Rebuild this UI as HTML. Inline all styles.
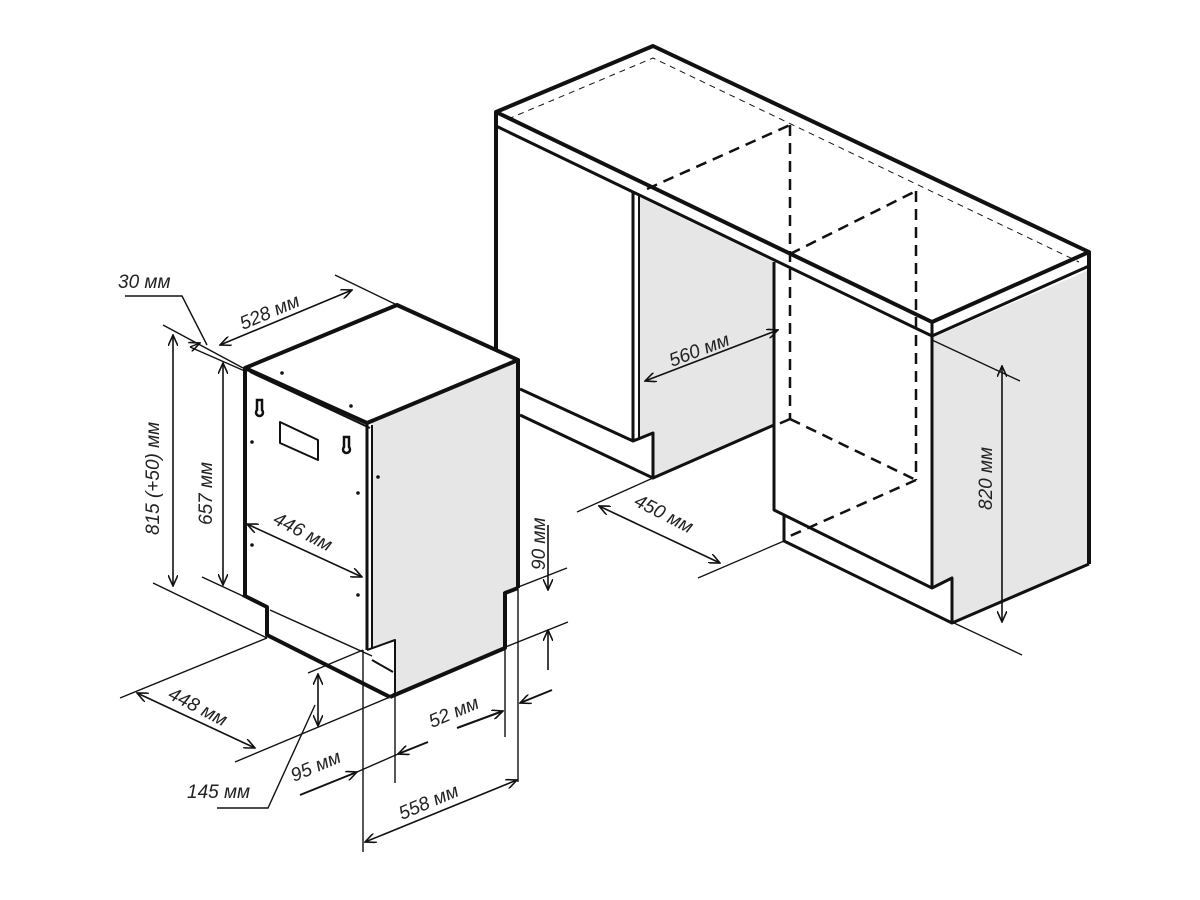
<!DOCTYPE html>
<html><head><meta charset="utf-8"><style>
html,body{margin:0;padding:0;background:#fff}
svg{display:block}
text{font-family:"Liberation Sans",sans-serif;font-size:19px;fill:#222;font-style:italic}
</style></head><body>
<svg width="1200" height="900" viewBox="0 0 1200 900" xmlns="http://www.w3.org/2000/svg">
<defs>
<marker id="a" viewBox="0 0 12 10" refX="11" refY="5" markerWidth="12" markerHeight="10" markerUnits="userSpaceOnUse" orient="auto-start-reverse">
<path d="M0,0 L11,5 L0,10" fill="none" stroke="#111" stroke-width="1.6"/>
</marker>
</defs>
<rect width="1200" height="900" fill="#fff"/>

<!-- ===== CABINET ===== -->
<g stroke="#111" stroke-linejoin="round" fill="none">
<polygon points="639,197 774,262 774,425 653,478 653,433 639,440" fill="#e6e6e6" stroke="none"/>
<polygon points="932,338 1089,270 1089,564 952,623 952,578 932,588" fill="#e6e6e6" stroke="none"/>
<polygon points="496,112 653,46 1089,252 932,322" fill="#fff" stroke-width="4"/>
<polyline points="496,126 932,336 1089,266" stroke-width="3"/>
<line x1="932" y1="322" x2="932" y2="588" stroke-width="3"/>
<line x1="1089" y1="252" x2="1089" y2="564" stroke-width="4"/>
<polyline points="508,119 653,58 1079,262" stroke-width="1" stroke-dasharray="6,5"/>
<line x1="496" y1="112" x2="496" y2="358" stroke-width="4"/>
<polyline points="520,389 633,441 633,191" stroke-width="3"/>
<line x1="639" y1="195" x2="639" y2="440" stroke-width="2"/>
<polyline points="520,415 653,478 653,433 633,441" stroke-width="3"/>
<line x1="653" y1="478" x2="774" y2="425" stroke-width="3"/>
<polyline points="774,262 774,510 932,588 952,578 952,623 1089,564" stroke-width="3"/>
<polyline points="784,516 784,541 952,623" stroke-width="3"/>
<g stroke-width="2.5" stroke-dasharray="11,7">
<line x1="647" y1="189" x2="790" y2="125"/>
<line x1="790" y1="125" x2="790" y2="419"/>
<line x1="790" y1="254" x2="916" y2="191"/>
<line x1="916" y1="191" x2="916" y2="480"/>
<line x1="790" y1="419" x2="916" y2="480"/>
<line x1="916" y1="480" x2="790" y2="536"/>
<line x1="790" y1="419" x2="774" y2="426"/>
</g>
<line x1="645" y1="381" x2="778" y2="330" stroke-width="1.6" marker-start="url(#a)" marker-end="url(#a)"/>
<line x1="577" y1="512" x2="653" y2="478" stroke-width="1.3"/>
<line x1="698" y1="578" x2="784" y2="541" stroke-width="1.3"/>
<line x1="599" y1="506" x2="720" y2="563" stroke-width="1.6" marker-start="url(#a)" marker-end="url(#a)"/>
<line x1="932" y1="340" x2="1020" y2="381" stroke-width="1.3"/>
<line x1="954" y1="623" x2="1022" y2="655" stroke-width="1.3"/>
<line x1="1002" y1="366" x2="1002" y2="622" stroke-width="1.6" marker-start="url(#a)" marker-end="url(#a)"/>
</g>
<text transform="translate(672,367) rotate(-21)">560 мм</text>
<text transform="translate(633,505) rotate(27)">450 мм</text>
<text transform="translate(992,510) rotate(-90)">820 мм</text>

<!-- ===== DISHWASHER ===== -->
<g stroke="#111" stroke-linejoin="round" fill="none">
<polygon points="372,423 518,360 518,588 505,593 505,648 390,697 395,693 395,640 372,647" fill="#e6e6e6" stroke="none"/>
<polygon points="245,368 397,305 518,360 367,423" fill="#fff" stroke-width="4"/>
<line x1="250" y1="372" x2="370" y2="428" stroke-width="2"/>
<line x1="245" y1="368" x2="245" y2="595" stroke-width="4"/>
<line x1="367" y1="423" x2="367" y2="650" stroke-width="3"/>
<line x1="372" y1="425" x2="372" y2="648" stroke-width="2"/>
<line x1="518" y1="360" x2="518" y2="588" stroke-width="4"/>
<polyline points="518,588 505,593 505,648 390,697" stroke-width="4"/>
<polyline points="243,595 267,607 267,635 390,697" stroke-width="4"/>
<line x1="270" y1="610" x2="372" y2="656" stroke-width="1.5"/>
<polyline points="367,650 395,640 395,693 390,697" stroke-width="2"/>
<line x1="372" y1="660" x2="393" y2="672" stroke-width="2"/>
<polygon points="280,422 318,440 318,460 280,443" stroke-width="2"/>
</g>
<g fill="#111">
<circle cx="282" cy="373" r="1.8"/><circle cx="351" cy="406" r="1.8"/>
<circle cx="252" cy="442" r="1.8"/><circle cx="252" cy="545" r="1.8"/>
<circle cx="358" cy="493" r="1.8"/><circle cx="358" cy="595" r="1.8"/>
<circle cx="378" cy="477" r="1.8"/>
</g>
<g fill="#fff" stroke="#111" stroke-width="2.5">
<path d="M257,400 L257,410 A3.5,3.5 0 1 0 262,410 L262,400 Z"/>
<path d="M344,437 L344,447 A3.5,3.5 0 1 0 349,447 L349,437 Z"/>
</g>

<g stroke="#111" stroke-width="1.4" fill="none">
<polyline points="125,296 182,296 207,345"/>
<line x1="190" y1="347" x2="200" y2="343" marker-end="url(#a)"/>
<line x1="163" y1="325" x2="243" y2="368"/>
<line x1="190" y1="347" x2="247" y2="372"/>
<line x1="335" y1="275" x2="397" y2="305"/>
<line x1="220" y1="345" x2="352" y2="290" stroke-width="1.6" marker-start="url(#a)" marker-end="url(#a)"/>
<line x1="173" y1="335" x2="173" y2="586" stroke-width="1.6" marker-start="url(#a)" marker-end="url(#a)"/>
<line x1="153" y1="583" x2="267" y2="638"/>
<line x1="223" y1="363" x2="223" y2="585" stroke-width="1.6" marker-start="url(#a)" marker-end="url(#a)"/>
<line x1="202" y1="577" x2="245" y2="597"/>
<line x1="247" y1="524" x2="362" y2="577" stroke-width="1.6" marker-start="url(#a)" marker-end="url(#a)"/>
<line x1="503" y1="593" x2="567" y2="568"/>
<line x1="503" y1="648" x2="568" y2="622"/>
<line x1="548" y1="525" x2="548" y2="590" stroke-width="1.6" marker-end="url(#a)"/>
<line x1="548" y1="670" x2="548" y2="630" stroke-width="1.6" marker-end="url(#a)"/>
<line x1="120" y1="698" x2="267" y2="638"/>
<line x1="235" y1="762" x2="390" y2="697"/>
<line x1="137" y1="693" x2="255" y2="748" stroke-width="1.6" marker-start="url(#a)" marker-end="url(#a)"/>
<line x1="308" y1="673" x2="363" y2="650"/>
<line x1="318" y1="674" x2="318" y2="726" stroke-width="1.6" marker-start="url(#a)" marker-end="url(#a)"/>
<polyline points="217,808 268,808 315,705"/>
<line x1="363" y1="650" x2="363" y2="852"/>
<line x1="395" y1="697" x2="395" y2="783"/>
<line x1="505" y1="648" x2="505" y2="737"/>
<line x1="518" y1="588" x2="518" y2="782"/>
<line x1="300" y1="795" x2="357" y2="772" stroke-width="2" marker-end="url(#a)"/>
<line x1="428" y1="742" x2="398" y2="754" stroke-width="2" marker-end="url(#a)"/>
<line x1="357" y1="772" x2="398" y2="754"/>
<line x1="457" y1="728" x2="503" y2="711" stroke-width="2" marker-end="url(#a)"/>
<line x1="552" y1="690" x2="520" y2="703" stroke-width="2" marker-end="url(#a)"/>
<line x1="365" y1="842" x2="517" y2="780" stroke-width="1.6" marker-start="url(#a)" marker-end="url(#a)"/>
</g>
<text x="118" y="288">30 мм</text>
<text transform="translate(243,330) rotate(-23)">528 мм</text>
<text transform="translate(159,535) rotate(-90)">815 (+50) мм</text>
<text transform="translate(212,525) rotate(-90)">657 мм</text>
<text transform="translate(272,523) rotate(27)">446 мм</text>
<text transform="translate(545,570) rotate(-90)">90 мм</text>
<text transform="translate(167,698) rotate(27)">448 мм</text>
<text x="187" y="798">145 мм</text>
<text transform="translate(294,782) rotate(-23)">95 мм</text>
<text transform="translate(432,728) rotate(-23)">52 мм</text>
<text transform="translate(402,820) rotate(-23)">558 мм</text>
</svg>
</body></html>
